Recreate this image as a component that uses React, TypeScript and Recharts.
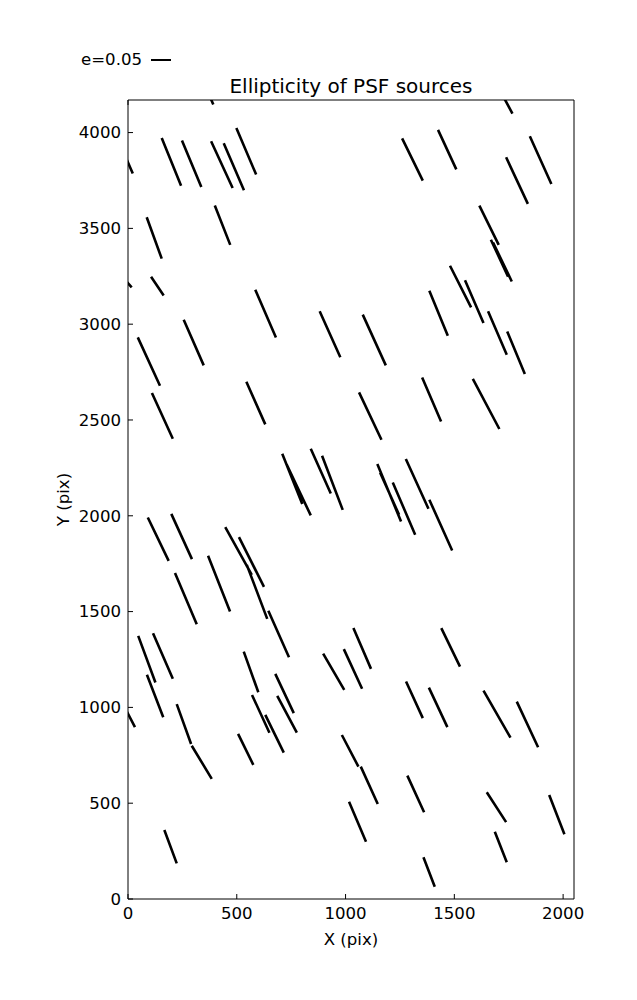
import React from 'react';
import { LineChart, Line, XAxis, YAxis } from 'recharts';

// whiskers: [xStart, yStart, xEnd, yEnd] in pixel coordinates of the detector
const whiskers: [number, number, number, number][] = [
  [372, 4200, 392, 4146],
  [155, 3972, 244, 3723],
  [248, 3958, 337, 3716],
  [382, 3955, 481, 3711],
  [440, 3944, 533, 3699],
  [498, 4024, 589, 3781],
  [-25, 3910, 22, 3786],
  [86, 3558, 155, 3342],
  [399, 3619, 470, 3414],
  [106, 3248, 164, 3150],
  [-20, 3240, 17, 3192],
  [1710, 4220, 1767, 4099],
  [1260, 3970, 1355, 3749],
  [1425, 4014, 1509, 3808],
  [1738, 3871, 1838, 3628],
  [1847, 3981, 1946, 3732],
  [1615, 3619, 1704, 3414],
  [1668, 3441, 1747, 3248],
  [1678, 3426, 1764, 3223],
  [1480, 3305, 1577, 3088],
  [1549, 3229, 1634, 3006],
  [1385, 3175, 1470, 2940],
  [1655, 3067, 1741, 2841],
  [1743, 2962, 1824, 2740],
  [1079, 3050, 1185, 2785],
  [1062, 2644, 1165, 2397],
  [1352, 2722, 1439, 2492],
  [1585, 2715, 1707, 2453],
  [585, 3180, 680, 2931],
  [881, 3067, 976, 2827],
  [256, 3023, 348, 2785],
  [45, 2931, 147, 2679],
  [110, 2641, 206, 2402],
  [544, 2700, 631, 2477],
  [709, 2324, 801, 2061],
  [730, 2266, 840, 2002],
  [840, 2350, 932, 2116],
  [892, 2313, 987, 2031],
  [1146, 2270, 1255, 1970],
  [1159, 2225, 1246, 2005],
  [1217, 2174, 1320, 1901],
  [1277, 2296, 1381, 2037],
  [1385, 2084, 1490, 1819],
  [91, 1991, 187, 1765],
  [199, 2010, 294, 1774],
  [447, 1941, 569, 1692],
  [510, 1889, 625, 1629],
  [546, 1744, 640, 1462],
  [216, 1701, 316, 1434],
  [368, 1791, 469, 1500],
  [645, 1504, 740, 1262],
  [47, 1373, 126, 1130],
  [115, 1387, 206, 1149],
  [87, 1170, 162, 949],
  [532, 1291, 599, 1079],
  [677, 1175, 762, 970],
  [570, 1065, 650, 868],
  [686, 1060, 776, 868],
  [631, 961, 716, 764],
  [897, 1281, 994, 1091],
  [992, 1304, 1076, 1097],
  [1036, 1414, 1117, 1201],
  [1440, 1414, 1526, 1213],
  [1278, 1135, 1355, 944],
  [1383, 1103, 1468, 897],
  [1634, 1088, 1758, 842],
  [1787, 1030, 1885, 792],
  [-20, 1010, 32, 897],
  [224, 1017, 290, 809],
  [293, 800, 385, 627],
  [506, 862, 576, 700],
  [983, 856, 1059, 691],
  [1070, 691, 1148, 496],
  [1284, 644, 1361, 453],
  [1016, 508, 1094, 299],
  [1649, 557, 1738, 401],
  [1936, 543, 2006, 338],
  [1686, 351, 1741, 192],
  [1358, 218, 1410, 64],
  [167, 360, 224, 186],
];

const xTicks = [0, 500, 1000, 1500, 2000];
const yTicks = [0, 500, 1000, 1500, 2000, 2500, 3000, 3500, 4000];
const keyLabel = 'e=0.05';

// each whisker becomes two points followed by a gap
const points = whiskers.flatMap(([x1, y1, x2, y2]) => [
  { x: x1, y: y1 },
  { x: x2, y: y2 },
  { x: x2, y: null },
]);

const font = '"DejaVu Sans", sans-serif';
const textStyle = { fontSize: 16.6, fill: '#000', fontFamily: font };
const noLabel = () => '';

export default function App() {
  return (
    <div style={{ position: 'absolute', left: 0, top: 0, width: 637, height: 1000, background: '#fff' }}>
      <div
        style={{
          position: 'absolute', left: 128, width: 446, top: 75, textAlign: 'center',
          fontFamily: font, fontSize: 20, lineHeight: '22px',
        }}
      >
        Ellipticity of PSF sources
      </div>
      <div
        style={{ position: 'absolute', left: 81, top: 50, fontFamily: font, fontSize: 16.6, lineHeight: '19px' }}
      >
        {keyLabel}
      </div>
      <div style={{ position: 'absolute', left: 151, top: 59, width: 20, height: 2, background: '#000' }} />
      <LineChart
        width={637}
        height={1000}
        data={points}
        margin={{ top: 90, right: 53, bottom: 51, left: 58 }}
      >
        <XAxis
          dataKey="x"
          type="number"
          domain={[0, 2050]}
          ticks={xTicks}
          allowDataOverflow
          height={50}
          tickSize={-5}
          tickMargin={13}
          tick={textStyle}
          stroke="#000"
          label={{ value: 'X (pix)', position: 'insideBottom', offset: 4, style: textStyle }}
        />
        <XAxis
          xAxisId="top"
          orientation="top"
          type="number"
          domain={[0, 2050]}
          ticks={xTicks}
          height={10}
          tickSize={-5}
          tickFormatter={noLabel}
          stroke="#000"
        />
        <YAxis
          dataKey="y"
          type="number"
          domain={[0, 4170]}
          ticks={yTicks}
          allowDataOverflow
          width={70}
          tickSize={-5}
          tickMargin={12}
          tick={textStyle}
          stroke="#000"
          label={{ value: 'Y (pix)', angle: -90, position: 'insideLeft', offset: 5, style: { ...textStyle, textAnchor: 'middle' } }}
        />
        <YAxis
          yAxisId="right"
          orientation="right"
          type="number"
          domain={[0, 4170]}
          ticks={yTicks}
          width={10}
          tickSize={-5}
          tickFormatter={noLabel}
          stroke="#000"
        />
        <Line
          dataKey="y"
          type="linear"
          stroke="#000"
          strokeWidth={2.6}
          dot={false}
          activeDot={false}
          connectNulls={false}
          isAnimationActive={false}
        />
      </LineChart>
    </div>
  );
}
